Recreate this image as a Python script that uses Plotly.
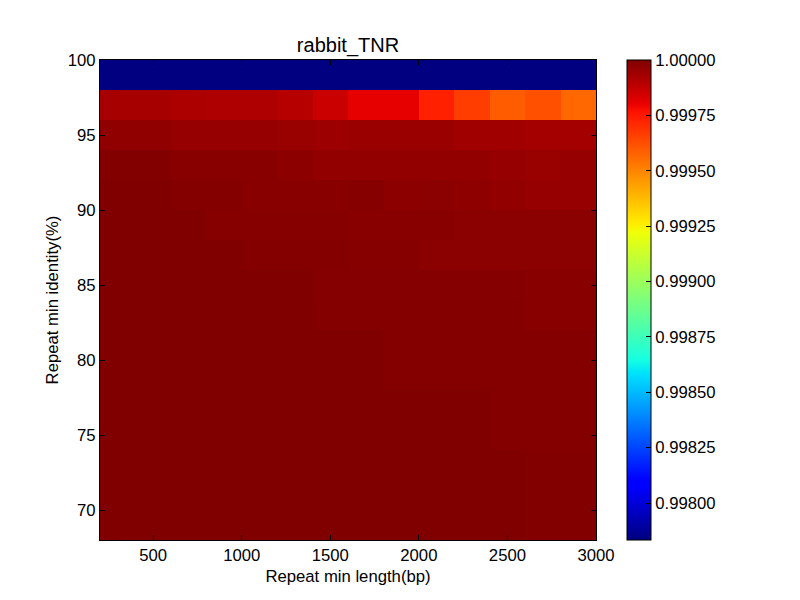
import plotly.graph_objects as go

# cell edges
length_edges = [200, 400, 600, 800, 1000, 1200, 1400, 1600, 1800, 2000, 2200, 2400, 2600, 2800, 3000]
identity_edges = [68, 70, 72, 74, 76, 78, 80, 82, 84, 86, 88, 90, 92, 94, 96, 98, 100]

# TNR per cell, rows listed from the top (98-100) down to the bottom (68-70)
row_98 = [0.997833, 0.997833, 0.997833, 0.997833, 0.997833, 0.997833, 0.997833, 0.997833, 0.997833, 0.997833, 0.997833, 0.997833, 0.997833, 0.997833]
row_96 = [0.999928, 0.999928, 0.999917, 0.999913, 0.999913, 0.999898, 0.999861, 0.999808, 0.999808, 0.999731, 0.999666, 0.999594, 0.999621, 0.999567]
row_94 = [0.999969, 0.999969, 0.999958, 0.999958, 0.999958, 0.999954, 0.999947, 0.999950, 0.999950, 0.999950, 0.999939, 0.999939, 0.999932, 0.999932]
row_92 = [0.999995, 0.999995, 0.999984, 0.999984, 0.999984, 0.999977, 0.999965, 0.999965, 0.999965, 0.999965, 0.999965, 0.999958, 0.999954, 0.999958]
row_90 = [1.000000, 1.000000, 0.999992, 0.999992, 0.999984, 0.999984, 0.999984, 0.999988, 0.999977, 0.999980, 0.999973, 0.999965, 0.999958, 0.999958]
row_88 = [1.000000, 1.000000, 1.000000, 0.999988, 0.999988, 0.999988, 0.999988, 0.999984, 0.999984, 0.999984, 0.999980, 0.999980, 0.999980, 0.999980]
row_86 = [1.000000, 1.000000, 1.000000, 1.000000, 0.999992, 0.999992, 0.999992, 0.999988, 0.999988, 0.999980, 0.999980, 0.999980, 0.999980, 0.999980]
row_84 = [1.000000, 1.000000, 1.000000, 1.000000, 1.000000, 1.000000, 0.999990, 0.999990, 0.999990, 0.999990, 0.999990, 0.999990, 0.999984, 0.999984]
row_82 = [1.000000, 1.000000, 1.000000, 1.000000, 1.000000, 1.000000, 0.999992, 0.999992, 0.999992, 0.999992, 0.999992, 0.999992, 0.999984, 0.999984]
row_80 = [1.000000, 1.000000, 1.000000, 1.000000, 1.000000, 1.000000, 1.000000, 1.000000, 0.999992, 0.999992, 0.999992, 0.999992, 0.999992, 0.999992]
row_78 = [1.000000, 1.000000, 1.000000, 1.000000, 1.000000, 1.000000, 1.000000, 1.000000, 0.999992, 0.999992, 0.999992, 0.999992, 0.999992, 0.999992]
row_76 = [1.000000, 1.000000, 1.000000, 1.000000, 1.000000, 1.000000, 1.000000, 1.000000, 1.000000, 1.000000, 1.000000, 0.999992, 0.999992, 0.999992]
row_74 = [1.000000, 1.000000, 1.000000, 1.000000, 1.000000, 1.000000, 1.000000, 1.000000, 1.000000, 1.000000, 1.000000, 0.999992, 0.999992, 0.999992]
row_72 = [1.000000, 1.000000, 1.000000, 1.000000, 1.000000, 1.000000, 1.000000, 1.000000, 1.000000, 1.000000, 1.000000, 1.000000, 0.999994, 0.999994]
row_70 = [1.000000, 1.000000, 1.000000, 1.000000, 1.000000, 1.000000, 1.000000, 1.000000, 1.000000, 1.000000, 1.000000, 1.000000, 0.999994, 0.999994]
row_68 = [1.000000, 1.000000, 1.000000, 1.000000, 1.000000, 1.000000, 1.000000, 1.000000, 1.000000, 1.000000, 1.000000, 1.000000, 0.999994, 0.999994]

rows_top_down = [row_98, row_96, row_94, row_92, row_90, row_88, row_86, row_84,
                 row_82, row_80, row_78, row_76, row_74, row_72, row_70, row_68]
z = rows_top_down[::-1]

cbar_ticks = [0.99800, 0.99825, 0.99850, 0.99875, 0.99900, 0.99925, 0.99950, 0.99975, 1.00000]


# matplotlib "jet" rebuilt from its segment data
def seg(t, pts):
    for (a, va), (b, vb) in zip(pts, pts[1:]):
        if a <= t <= b:
            return va + (vb - va) * (t - a) / (b - a)
    return pts[-1][1]

red = [(0, 0), (0.35, 0), (0.66, 1), (0.89, 1), (1, 0.5)]
green = [(0, 0), (0.125, 0), (0.375, 1), (0.64, 1), (0.91, 0), (1, 0)]
blue = [(0, 0.5), (0.11, 1), (0.34, 1), (0.65, 0), (1, 0)]
stops = sorted(set([p[0] for p in red + green + blue]))
jet = [[s, "rgb(%d,%d,%d)" % (round(255 * seg(s, red)), round(255 * seg(s, green)), round(255 * seg(s, blue)))]
       for s in stops]

zmin = min(min(r) for r in z)
zmax = max(max(r) for r in z)

fig = go.Figure(go.Heatmap(
    x=length_edges, y=identity_edges, z=z,
    colorscale=jet, zmin=zmin, zmax=zmax,
    colorbar=dict(
        x=1.0625, xanchor="left", xref="paper", xpad=0, ypad=0,
        y=0.5, yanchor="middle", len=1, lenmode="fraction",
        thickness=24, outlinewidth=1, outlinecolor="black",
        tickvals=cbar_ticks, ticktext=["%.5f" % v for v in cbar_ticks],
        ticks="inside", ticklen=5, tickcolor="black",
        tickfont=dict(size=16.7, color="black"),
    ),
))

axis_style = dict(
    showline=True, linecolor="black", linewidth=1, mirror="ticks",
    ticks="inside", ticklen=5, tickcolor="black", showgrid=False, zeroline=False,
    tickfont=dict(size=16.7, color="black"),
)

# the page body adds an 8px offset, so margins are trimmed to land the axes at 100..596 x 60..540
fig.update_layout(
    width=800, height=600,
    margin=dict(l=92, r=212, t=52, b=68),
    paper_bgcolor="white", plot_bgcolor="white",
    font=dict(family="Liberation Sans, Arial, sans-serif", color="black"),
    title=dict(text="rabbit_TNR", x=0.5, xref="paper", xanchor="center",
               y=1 - 37 / 600, yref="container", yanchor="middle",
               font=dict(size=20, color="black")),
    xaxis=dict(range=[200, 3000], tickvals=[500, 1000, 1500, 2000, 2500, 3000],
               title=dict(text="Repeat min length(bp)", font=dict(size=16.7), standoff=6),
               **axis_style),
    yaxis=dict(range=[68, 100], tickvals=[70, 75, 80, 85, 90, 95, 100],
               title=dict(text="Repeat min identity(%)", font=dict(size=16.7), standoff=4),
               **axis_style),
)

fig.write_html("out.html")
